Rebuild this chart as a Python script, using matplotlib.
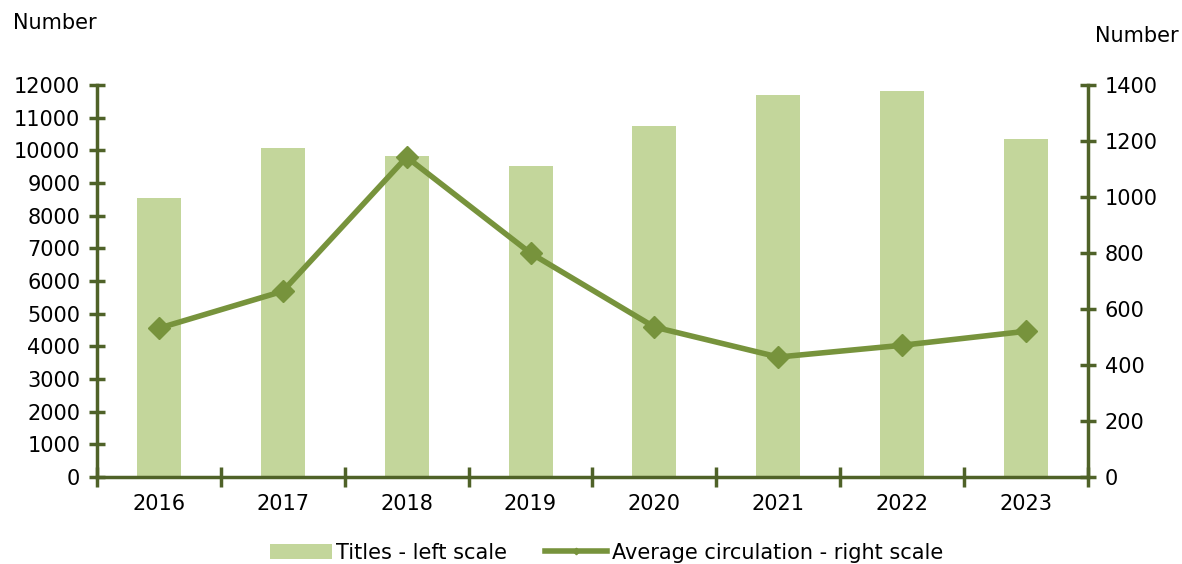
import matplotlib
matplotlib.use("Agg")
import matplotlib.pyplot as plt
from matplotlib.ticker import FixedLocator, NullFormatter

years = ["2016", "2017", "2018", "2019", "2020", "2021", "2022", "2023"]
titles = [8540, 10070, 9830, 9520, 10750, 11690, 11820, 10350]
circulation = [532, 664, 1143, 800, 536, 429, 471, 521]

bar_color = "#c3d69b"
line_color = "#77933c"
axis_color = "#4f6228"

plt.rcParams["font.family"] = "DejaVu Sans"
fs = 15

fig = plt.figure(figsize=(11.82, 5.64), dpi=100)
ax = fig.add_axes([0.082, 0.154, 0.8385, 0.695])
ax2 = ax.twinx()

x = list(range(len(years)))
bars = ax.bar(x, titles, width=0.355, color=bar_color, label="Titles - left scale", zorder=2)
line, = ax2.plot(x, circulation, color=line_color, linewidth=4, marker="D", markersize=11,
                 label="Average circulation - right scale", zorder=3)

ax.set_xlim(-0.5, len(years) - 0.5)
ax.set_ylim(0, 12000)
ax2.set_ylim(0, 1400)
ax.set_yticks(range(0, 12001, 1000))
ax2.set_yticks(range(0, 1401, 200))

# category labels centred, tick marks between categories
ax.set_xticks(x)
ax.set_xticklabels(years)
ax.xaxis.set_minor_locator(FixedLocator([i - 0.5 for i in range(len(years) + 1)]))
ax.xaxis.set_minor_formatter(NullFormatter())
ax.tick_params(axis="x", which="major", length=0, pad=12, labelsize=fs)
ax.tick_params(axis="x", which="minor", direction="inout", length=14, width=2.5, color=axis_color)
ax.tick_params(axis="y", direction="inout", length=12, width=2.5, color=axis_color, labelsize=fs, pad=6)
ax2.tick_params(axis="y", direction="inout", length=12, width=2.5, color=axis_color, labelsize=fs, pad=6)

for a in (ax, ax2):
    a.spines["top"].set_visible(False)
    for s in ("left", "right", "bottom"):
        a.spines[s].set_color(axis_color)
        a.spines[s].set_linewidth(2.5)
ax.spines["right"].set_visible(False)
ax2.spines["left"].set_visible(False)
ax2.spines["bottom"].set_visible(False)

fig.text(0.011, 0.96, "Number", fontsize=fs, va="center", ha="left")
fig.text(0.926, 0.937, "Number", fontsize=fs, va="center", ha="left")

fig.legend([bars, line], ["Titles - left scale", "Average circulation - right scale"],
           loc="center", bbox_to_anchor=(0.513, 0.02), ncol=2, frameon=False, fontsize=fs,
           handlelength=3.0, handletextpad=0.2, columnspacing=1.8, markerscale=0.3)

fig.savefig("out.png", dpi=100)
